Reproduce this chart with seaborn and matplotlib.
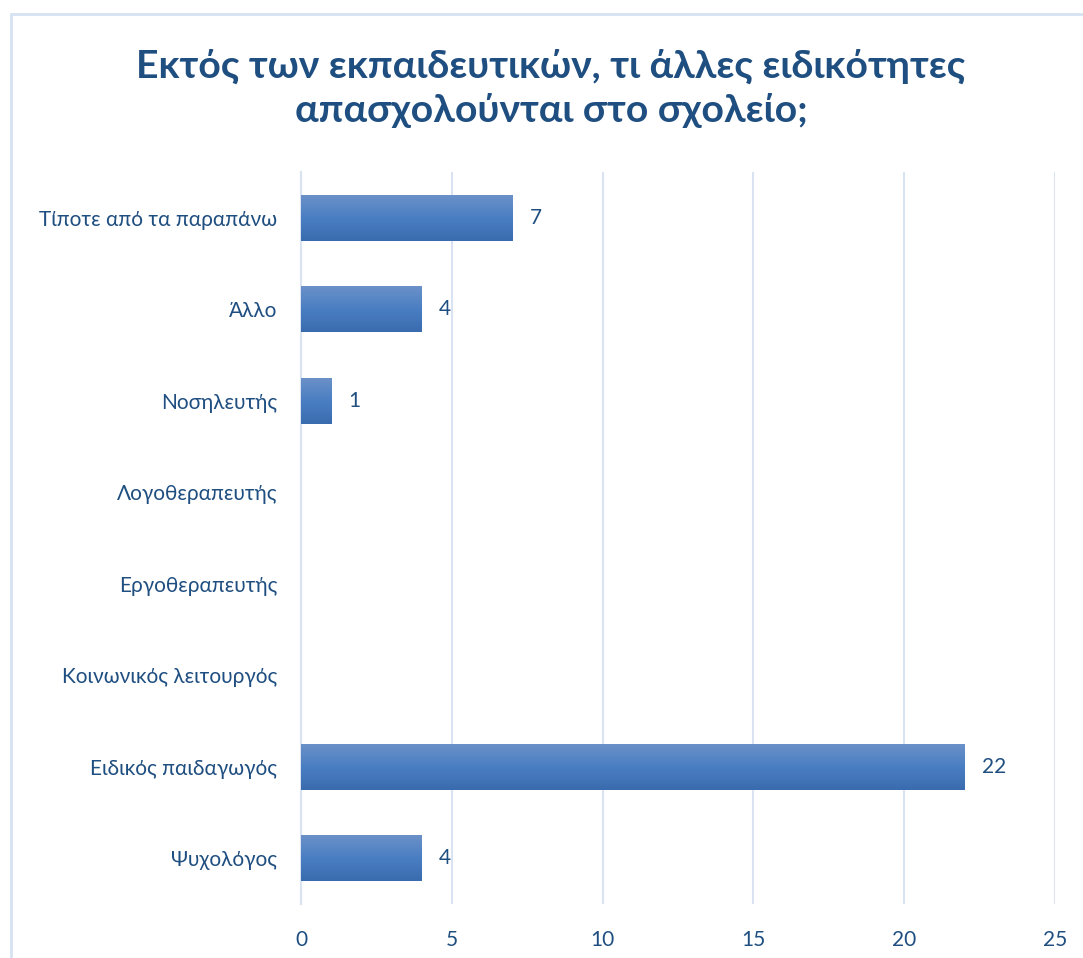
import numpy as np
import pandas as pd
import matplotlib
matplotlib.use("Agg")
import matplotlib.pyplot as plt
from matplotlib.patches import Rectangle
from matplotlib.colors import LinearSegmentedColormap
import seaborn as sns

categories = [
    "Τίποτε από τα παραπάνω",
    "Άλλο",
    "Νοσηλευτής",
    "Λογοθεραπευτής",
    "Εργοθεραπευτής",
    "Κοινωνικός λειτουργός",
    "Ειδικός παιδαγωγός",
    "Ψυχολόγος",
]
counts = [7, 4, 1, 0, 0, 0, 22, 4]
x_ticks = [0, 5, 10, 15, 20, 25]

TEXT = "#1f4e80"
GRID = "#d9e3f2"
FONT = ["Lato", "DejaVu Sans"]

sns.set_theme(style="white")
plt.rcParams["font.family"] = FONT

df = pd.DataFrame({"category": categories, "count": counts})

fig = plt.figure(figsize=(10.83, 9.58), dpi=100)
ax = fig.add_axes([301 / 1083, 1 - 904 / 958, (1055 - 301) / 1083, (904 - 172) / 958])

sns.barplot(data=df, x="count", y="category", order=categories, orient="h",
            width=0.5, color="#4a7ebf", ax=ax, zorder=3)

# vertical gradient inside each bar
grad = LinearSegmentedColormap.from_list("bar", ["#6b91c9", "#4a7ec2", "#3a6baf"])
gimg = np.linspace(0, 1, 256).reshape(-1, 1)
for p in ax.patches:
    w = p.get_width()
    p.set_facecolor("none")
    p.set_edgecolor("none")
    p.set_linewidth(0)
    if w <= 0:
        continue
    x0, y0, h = p.get_x(), p.get_y(), p.get_height()
    im = ax.imshow(gimg, cmap=grad, aspect="auto", extent=[x0, x0 + w, y0 + h, y0],
                   zorder=3, interpolation="bilinear")
    im.set_clip_path(p)

ax.set_xlim(0, 25)
ax.set_ylim(len(categories) - 0.5, -0.5)
ax.set_xticks(x_ticks)
ax.set_xticklabels([str(t) for t in x_ticks])
ax.set_xlabel("")
ax.set_ylabel("")

ax.grid(axis="x", color=GRID, linewidth=1.5, zorder=0)
ax.grid(axis="y", visible=False)
for s in ["top", "right", "bottom"]:
    ax.spines[s].set_visible(False)
ax.spines["left"].set_color(GRID)
ax.spines["left"].set_linewidth(1.5)
ax.spines["left"].set_zorder(1)
ax.tick_params(axis="both", length=0, labelsize=15, labelcolor=TEXT)
ax.tick_params(axis="x", pad=19)
ax.tick_params(axis="y", pad=17)

for i, v in enumerate(counts):
    if v > 0:
        ax.annotate(str(v), xy=(v, i), xytext=(12.5, 0), textcoords="offset points",
                    va="center", ha="left", fontsize=15, color=TEXT)

fig.text(551 / 1083, 1 - 88 / 958,
         "Εκτός των εκπαιδευτικών, τι άλλες ειδικότητες\nαπασχολούνται στο σχολείο;",
         ha="center", va="center", fontsize=28.3, fontweight="bold", color=TEXT,
         linespacing=1.3)

fig.patches.append(Rectangle((11 / 1083, -0.05), 1.2, 1 - 14 / 958 + 0.05,
                             transform=fig.transFigure, fill=False,
                             edgecolor="#d6e2f2", linewidth=2, zorder=10))

fig.savefig("out.png", dpi=100)
